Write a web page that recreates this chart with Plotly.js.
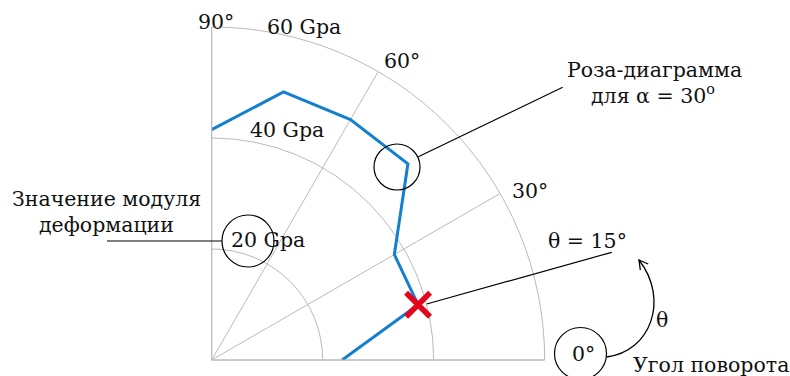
<!DOCTYPE html>
<html>
<head>
<meta charset="utf-8">
<script src="https://cdn.plot.ly/plotly-3.0.1.min.js"></script>
<style>html,body{margin:0;padding:0;background:#fff;}</style>
</head>
<body>
<div id="chart" style="width:790px;height:376px;"></div>
<script>
// Rose diagram: deformation modulus against rotation angle θ (α = 30°)
const thetaDeg = [0, 15, 30, 45, 60, 75, 90];
const modulusGpa = [23.5, 38.5, 38, 50, 50, 50, 41.5];

// highlighted reading at θ = 15°
const markedTheta = [15];
const markedModulus = [38.5];

// axis ticks and their labels
const radialTicks = [20, 40, 60];
const radialTickLabels = ['20 Gpa', '40 Gpa', '60 Gpa'];
const angularTicks = [0, 30, 60, 90];
const angularTickLabels = ['0°', '30°', '60°', '90°'];

// callout texts
const roseTitle = ['Роза-диаграмма', 'для α = 30<sup>o</sup>'];
const modulusTitle = ['Значение модуля', 'деформации'];
const angleNote = 'θ = 15°';
const rotationSymbol = 'θ';
const rotationTitle = 'Угол поворота';

const W = 790, H = 376;
const px = x => x / W;
const py = y => 1 - y / H;

// plot area: origin of the quarter circle and its radius in pixels
const ORIGIN = [211.7, 360];
const RADIUS = 333;

const FONT = 'DejaVu Serif';
const FS = 20.5;
const GRID = '#bababa';

// label placements (pixel centres)
const radialLabelPos = [[268, 240], [287, 130], [304, 27]];
const angularLabelPos = [[583, 354], [530, 191], [402, 61], [216, 22]];

function label(text, x, y, extra) {
  return Object.assign({
    text: text, xref: 'paper', yref: 'paper', x: px(x), y: py(y),
    xanchor: 'center', yanchor: 'middle', showarrow: false,
    font: {family: FONT, size: FS, color: '#111'}
  }, extra || {});
}
function circle(cx, cy, r) {
  return {type: 'circle', xref: 'paper', yref: 'paper',
    x0: px(cx - r), x1: px(cx + r), y0: py(cy + r), y1: py(cy - r),
    line: {color: '#000', width: 1.2}, fillcolor: 'rgba(0,0,0,0)'};
}
function segment(x0, y0, x1, y1) {
  return {type: 'line', xref: 'paper', yref: 'paper',
    x0: px(x0), y0: py(y0), x1: px(x1), y1: py(y1),
    line: {color: '#000', width: 1.2}};
}
// path given in pixel coordinates, converted to paper fractions
function pathPx(cmds) {
  return cmds.map(c => typeof c === 'string' ? c :
    px(c[0]).toFixed(5) + ',' + py(c[1]).toFixed(5)).join(' ');
}

const annotations = [];
radialTickLabels.forEach((t, i) => annotations.push(label(t, radialLabelPos[i][0], radialLabelPos[i][1])));
angularTickLabels.forEach((t, i) => annotations.push(label(t, angularLabelPos[i][0], angularLabelPos[i][1])));
annotations.push(label(roseTitle[0], 654, 70));
annotations.push(label(roseTitle[1], 653, 94));
annotations.push(label(modulusTitle[0], 106.5, 199));
annotations.push(label(modulusTitle[1], 106.5, 225));
annotations.push(label(angleNote, 587, 241));
annotations.push(label(rotationSymbol, 662, 320));
annotations.push(label(rotationTitle, 631, 365, {xanchor: 'left'}));

const shapes = [
  circle(397, 167, 23),
  circle(248, 241, 26),
  circle(580.5, 353.5, 26),
  segment(107, 241, 222, 241),
  segment(418.3, 156.7, 562.7, 87.3),
  segment(426.7, 304, 611.7, 252.3),
  {type: 'path', xref: 'paper', yref: 'paper',
   path: pathPx(['M', [606.7, 357], 'C', [650, 352], [670, 300], [639, 260]]),
   line: {color: '#000', width: 1.3}},
  {type: 'path', xref: 'paper', yref: 'paper',
   path: pathPx(['M', [640.3, 270], 'L', [639, 260], 'L', [648.2, 264]]),
   line: {color: '#000', width: 1.3}}
];

const traces = [
  {type: 'scatterpolar', mode: 'lines', r: modulusGpa, theta: thetaDeg,
   line: {color: '#1380cf', width: 3}, cliponaxis: false, hoverinfo: 'skip'},
  {type: 'scatterpolar', mode: 'markers', r: markedModulus, theta: markedTheta,
   marker: {symbol: 'x-thin', size: 24, color: '#e3061b',
            line: {color: '#e3061b', width: 5.5}},
   cliponaxis: false, hoverinfo: 'skip'}
];

const layout = {
  width: W, height: H,
  margin: {l: 0, r: 0, t: 0, b: 0},
  paper_bgcolor: '#fff',
  showlegend: false,
  polar: {
    domain: {x: [px(ORIGIN[0]), px(ORIGIN[0] + RADIUS)],
             y: [py(ORIGIN[1]), py(ORIGIN[1] - RADIUS)]},
    sector: [0, 90],
    bgcolor: 'rgba(0,0,0,0)',
    radialaxis: {range: [0, 60], tickvals: radialTicks, showticklabels: false,
                 ticks: '', showline: false, gridcolor: GRID, gridwidth: 1},
    angularaxis: {tickvals: angularTicks, showticklabels: false, ticks: '',
                  direction: 'counterclockwise', rotation: 0,
                  showline: true, linecolor: GRID, linewidth: 1,
                  gridcolor: GRID, gridwidth: 1}
  },
  annotations: annotations,
  shapes: shapes
};

Plotly.newPlot('chart', traces, layout, {staticPlot: true, displayModeBar: false});
</script>
</body>
</html>
